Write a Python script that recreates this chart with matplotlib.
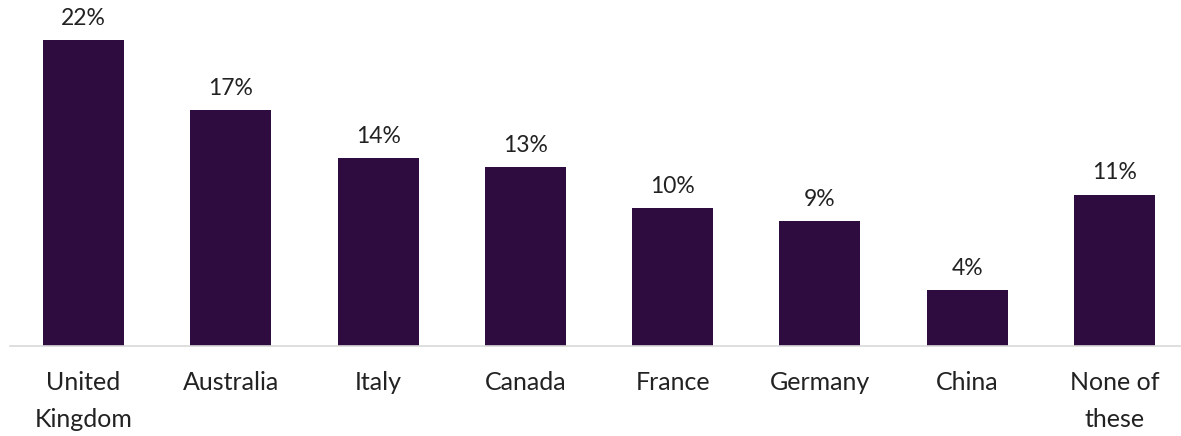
import matplotlib.pyplot as plt

categories = ["United\nKingdom", "Australia", "Italy", "Canada", "France", "Germany", "China", "None of\nthese"]
values = [22, 17, 13.5, 12.9, 9.9, 9, 4, 10.9]
labels = ["22%", "17%", "14%", "13%", "10%", "9%", "4%", "11%"]

plt.rcParams['font.family'] = ['Lato', 'DejaVu Sans']

fig = plt.figure(figsize=(11.81, 4.36), dpi=100)
ax = fig.add_axes([10 / 1181, 90 / 436, 1178 / 1181, 346 / 436])

x = range(len(categories))
bars = ax.bar(x, values, width=0.55, color="#2f0c40")

for b, v, lab in zip(bars, values, labels):
    ax.text(b.get_x() + b.get_width() / 2, v + 0.8, lab, ha="center", va="bottom",
            fontsize=16.5, color="#222222")

ax.set_xlim(-0.5, 7.5)
ax.set_ylim(0, 24.9)
ax.set_xticks(list(x))
ax.set_xticklabels(categories, fontsize=18, color="#222222", linespacing=1.75)
ax.tick_params(axis="x", length=0, pad=18)
ax.set_yticks([])
for s in ["top", "right", "left"]:
    ax.spines[s].set_visible(False)
ax.spines["bottom"].set_color("#d9d9d9")
ax.spines["bottom"].set_linewidth(1.2)

fig.savefig("out.png", dpi=100)
